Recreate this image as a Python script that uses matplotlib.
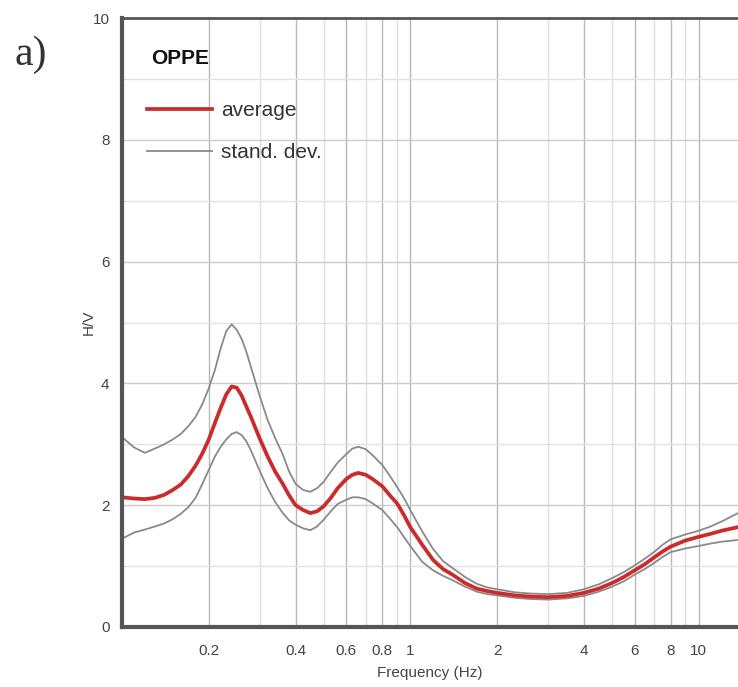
import matplotlib
matplotlib.use("Agg")
import matplotlib.pyplot as plt
from matplotlib.ticker import NullLocator

# H/V spectral ratio, station OPPE
freq = [0.100, 0.110, 0.120, 0.130, 0.140, 0.150, 0.160, 0.170, 0.180, 0.190,
        0.200, 0.210, 0.220, 0.230, 0.240, 0.250, 0.260, 0.270, 0.280, 0.300,
        0.320, 0.340, 0.360, 0.380, 0.400, 0.425, 0.450, 0.475, 0.500, 0.530,
        0.560, 0.600, 0.630, 0.660, 0.700, 0.740, 0.800, 0.850, 0.900, 0.950,
        1.00, 1.10, 1.20, 1.30, 1.40, 1.55, 1.70, 1.85, 2.0, 2.3,
        2.6, 3.0, 3.5, 4.0, 4.5, 5.0, 5.5, 6.0, 6.5, 7.0,
        7.5, 8.0, 9.0, 10.0, 11.0, 12.0, 13.7]
hv_avg = [2.13, 2.11, 2.10, 2.12, 2.17, 2.25, 2.34, 2.48, 2.65, 2.85,
          3.08, 3.35, 3.60, 3.82, 3.95, 3.93, 3.80, 3.62, 3.45, 3.10,
          2.80, 2.55, 2.36, 2.16, 2.00, 1.92, 1.87, 1.90, 1.98, 2.12,
          2.28, 2.43, 2.50, 2.53, 2.50, 2.43, 2.31, 2.16, 2.03, 1.84,
          1.64, 1.35, 1.10, 0.95, 0.86, 0.72, 0.63, 0.59, 0.56, 0.52,
          0.50, 0.49, 0.51, 0.56, 0.63, 0.72, 0.82, 0.93, 1.03, 1.14,
          1.24, 1.32, 1.42, 1.48, 1.53, 1.58, 1.64]
hv_up = [3.12, 2.95, 2.86, 2.93, 3.00, 3.08, 3.17, 3.30, 3.45, 3.66,
         3.92, 4.22, 4.58, 4.86, 4.97, 4.88, 4.73, 4.52, 4.27, 3.80,
         3.40, 3.10, 2.85, 2.55, 2.35, 2.25, 2.22, 2.28, 2.38, 2.55,
         2.70, 2.84, 2.93, 2.96, 2.92, 2.82, 2.66, 2.48, 2.30, 2.12,
         1.92, 1.57, 1.28, 1.08, 0.97, 0.82, 0.71, 0.65, 0.62, 0.57,
         0.55, 0.54, 0.56, 0.62, 0.70, 0.80, 0.90, 1.01, 1.12, 1.23,
         1.35, 1.44, 1.52, 1.58, 1.65, 1.73, 1.87]
hv_low = [1.45, 1.55, 1.60, 1.65, 1.70, 1.77, 1.86, 1.97, 2.12, 2.35,
          2.58, 2.80, 2.96, 3.08, 3.17, 3.20, 3.15, 3.05, 2.90, 2.57,
          2.28, 2.05, 1.88, 1.75, 1.68, 1.62, 1.59, 1.65, 1.76, 1.90,
          2.02, 2.09, 2.13, 2.13, 2.10, 2.03, 1.92, 1.78, 1.64, 1.48,
          1.33, 1.07, 0.93, 0.84, 0.77, 0.66, 0.58, 0.54, 0.52, 0.48,
          0.46, 0.45, 0.47, 0.51, 0.58, 0.66, 0.75, 0.86, 0.95, 1.05,
          1.15, 1.23, 1.29, 1.33, 1.37, 1.40, 1.43]

xticks = [0.2, 0.4, 0.6, 0.8, 1, 2, 4, 6, 8, 10]
xticklabels = ["0.2", "0.4", "0.6", "0.8", "1", "2", "4", "6", "8", "10"]
yticks = [0, 2, 4, 6, 8, 10]

plt.rcParams["font.family"] = ["Liberation Sans", "DejaVu Sans"]

fig = plt.figure(figsize=(7.38, 6.87), dpi=100)
ax = fig.add_axes([122 / 738, 60 / 687, 1 - 122 / 738, 609 / 687])

# grid: labelled decades darker, the rest lighter
minor = [k * 10.0 ** e for e in (-1, 0, 1) for k in range(1, 10)]
for v in minor:
    if 0.1 < v < 13.7:
        dark = any(abs(v - t) < 1e-9 for t in xticks)
        ax.axvline(v, color="#b8b8b8" if dark else "#e0e0e0", lw=1.0, zorder=0)
for y in range(1, 10):
    ax.axhline(y, color="#cccccc" if y % 2 == 0 else "#e2e2e2", lw=1.0, zorder=0)

ax.plot(freq, hv_up, color="#8a8a8a", lw=1.3, label="stand. dev.")
ax.plot(freq, hv_low, color="#8a8a8a", lw=1.3)
ax.plot(freq, hv_avg, color="#cc2b2b", lw=2.7, label="average")

ax.set_xscale("log")
ax.set_xlim(0.1, 13.7)
ax.set_ylim(0, 10)
ax.set_xticks(xticks)
ax.set_xticklabels(xticklabels)
ax.xaxis.set_minor_locator(NullLocator())
ax.set_yticks(yticks)
ax.tick_params(length=0, labelsize=11, labelcolor="#444444")
ax.tick_params(axis="x", pad=12)
ax.tick_params(axis="y", pad=9)

for s in ("left", "bottom"):
    ax.spines[s].set_linewidth(3)
    ax.spines[s].set_color("#555555")
ax.spines["top"].set_linewidth(2)
ax.spines["top"].set_color("#555555")
ax.spines["right"].set_visible(False)

ax.set_xlabel("Frequency (Hz)", fontsize=11, color="#444444", labelpad=6)
ax.set_ylabel("H/V", fontsize=11, color="#444444", labelpad=-2)

ax.text(0.048, 0.933, "OPPE", transform=ax.transAxes, fontsize=15,
        fontweight="bold", va="center", ha="left", color="#111111")

h, l = ax.get_legend_handles_labels()
leg = ax.legend([h[1], h[0]], [l[1], l[0]], loc="upper left",
                bbox_to_anchor=(0.041, 0.863), frameon=False, fontsize=15,
                borderpad=0, borderaxespad=0,
                handlelength=3.1, handletextpad=0.45, labelspacing=1.1)
for t in leg.get_texts():
    t.set_color("#333333")

fig.text(15 / 738, 1 - 55 / 687, "a)", fontsize=30, family="Liberation Serif",
         va="center", ha="left", color="#333333")

fig.savefig("out.png", dpi=100)
